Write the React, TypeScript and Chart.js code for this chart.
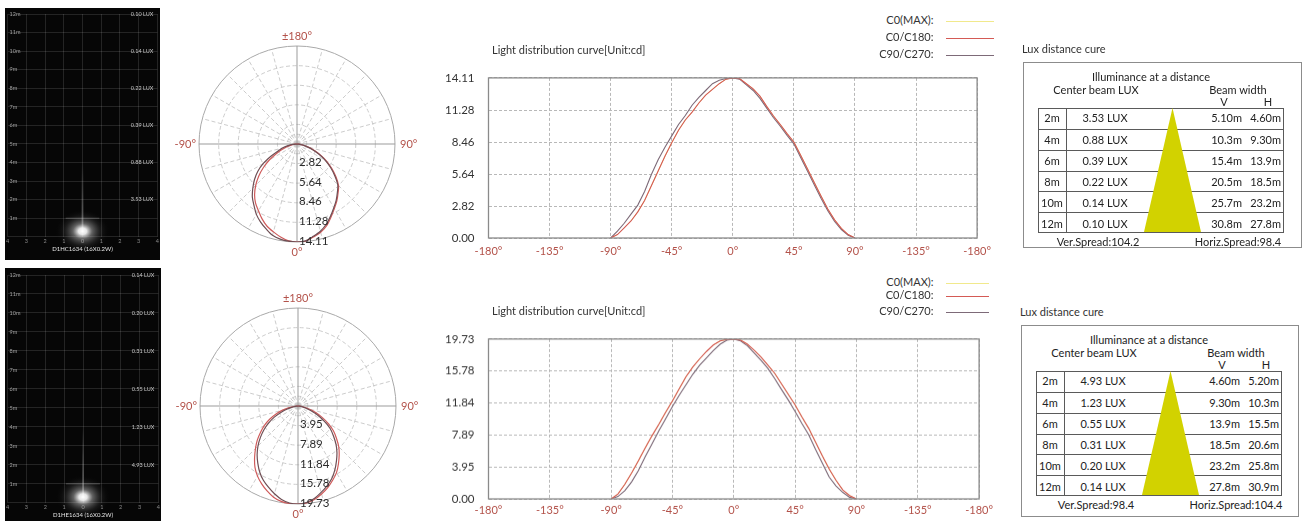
import React, { useEffect, useRef } from 'react';
import { Chart, registerables } from 'chart.js';

Chart.register(...registerables);

const FONT = 'Lato, "Open Sans", "DejaVu Sans", sans-serif';
const AXIS_RED = '#b3524a';
const RED = '#d45a55';
const GREY = '#7d6a78';
const YELLOW = '#f1e98c';

// ---------- data ----------
const angles = [-90, -85, -80, -75, -70, -65, -60, -55, -50, -45, -40, -35, -30, -25, -20, -15, -10, -5, 0, 5, 10, 15, 20, 25, 30, 35, 40, 45, 50, 55, 60, 65, 70, 75, 80, 85, 90];

const topC0 = [0, 0.3, 0.9, 1.5, 2.3, 3.3, 4.6, 5.9, 7.2, 8.4, 9.5, 10.4, 11.1, 11.9, 12.6, 13.1, 13.6, 14.0, 14.11, 14.05, 13.6, 13.15, 12.5, 11.6, 10.75, 10.0, 9.2, 8.46, 7.3, 6.1, 4.9, 3.7, 2.55, 1.6, 0.85, 0.3, 0];
const topC90 = [0, 0.6, 1.3, 2.1, 2.9, 4.1, 5.6, 6.9, 8.0, 9.0, 10.0, 10.8, 11.7, 12.4, 13.0, 13.6, 13.9, 14.05, 14.11, 14.0, 13.5, 13.0, 12.3, 11.45, 10.6, 9.85, 9.05, 8.3, 7.1, 5.9, 4.7, 3.5, 2.4, 1.45, 0.75, 0.25, 0];
const botC0 = [0, 0.6, 1.8, 3.2, 4.7, 6.3, 7.8, 9.2, 10.7, 12.1, 13.6, 15.1, 16.3, 17.3, 18.2, 19.0, 19.5, 19.7, 19.73, 19.6, 19.1, 18.35, 17.5, 16.5, 15.5, 14.2, 12.9, 11.6, 10.1, 8.7, 7.0, 5.3, 3.7, 2.3, 1.1, 0.4, 0];
const botC90 = [0, 0.3, 1.0, 2.1, 3.5, 5.2, 6.8, 8.4, 9.9, 11.4, 12.8, 14.1, 15.4, 16.5, 17.4, 18.3, 19.1, 19.6, 19.73, 19.5, 18.9, 18.0, 17.1, 16.1, 14.85, 13.5, 12.2, 10.8, 9.3, 7.9, 6.1, 4.4, 2.7, 1.6, 0.8, 0.2, 0];

const xTickValues = [-180, -135, -90, -45, 0, 45, 90, 135, 180];
const xTickLabels = ['-180°', '-135°', '-90°', '-45°', '0°', '45°', '90°', '-135°', '-180°'];
const topYTicks = [0, 2.82, 5.64, 8.46, 11.28, 14.11];
const botYTicks = [0, 3.95, 7.89, 11.84, 15.78, 19.73];

const polarAngleLabels = ['±180°', '90°', '0°', '-90°'];
const polarSpokeStep = 15;

const legendLabels = ['C0(MAX):', 'C0/C180:', 'C90/C270:'];
const legendColors = [YELLOW, RED, GREY];
const chartTitle = 'Light distribution curve[Unit:cd]';

const distances = ['2m', '4m', '6m', '8m', '10m', '12m'];
const panelMeters = [2, 4, 6, 8, 10, 12];
const topLux = [3.53, 0.88, 0.39, 0.22, 0.14, 0.10];
const topBeamV = ['5.10m', '10.3m', '15.4m', '20.5m', '25.7m', '30.8m'];
const topBeamH = ['4.60m', '9.30m', '13.9m', '18.5m', '23.2m', '27.8m'];
const topSpread = ['Ver.Spread:104.2', 'Horiz.Spread:98.4'];
const botLux = [4.93, 1.23, 0.55, 0.31, 0.20, 0.14];
const botBeamV = ['4.60m', '9.30m', '13.9m', '18.5m', '23.2m', '27.8m'];
const botBeamH = ['5.20m', '10.3m', '15.5m', '20.6m', '25.8m', '30.9m'];
const botSpread = ['Ver.Spread:98.4', 'Horiz.Spread:104.4'];
const topModel = 'D1HC1634 (16X0.2W)';
const botModel = 'D1HE1634 (16X0.2W)';

// ---------- helpers ----------
function Txt({ x, y, align = 'center', size = 11, color = '#222', children }: any) {
  const tx = align === 'center' ? '-50%' : align === 'right' ? '-100%' : '0';
  return (
    <div style={{ position: 'absolute', left: x, top: y - 7, height: 14, lineHeight: '14px', fontSize: size, color, whiteSpace: 'nowrap', transform: `translateX(${tx})`, fontFamily: FONT }}>
      {children}
    </div>
  );
}

// ---------- dark illuminance panel ----------
function DarkPanel({ left, top, width, height, padTop, padBottom, model, lux }: any) {
  const ref = useRef<HTMLCanvasElement>(null);
  useEffect(() => {
    const bg = {
      id: 'darkbg',
      beforeDraw(chart: any) {
        const c = chart.ctx;
        c.save();
        c.fillStyle = '#060606';
        c.fillRect(0, 0, chart.width, chart.height);
        c.restore();
      },
      afterDatasetsDraw(chart: any) {
        const c = chart.ctx;
        const xs = chart.scales.x;
        const ys = chart.scales.y;
        const cx = xs.getPixelForValue(0);
        const cy = ys.getPixelForValue(0.3);
        c.save();
        c.strokeStyle = 'rgba(255,255,255,0.25)';
        c.lineWidth = 1;
        c.beginPath();
        c.moveTo(xs.getPixelForValue(-0.9), ys.getPixelForValue(1));
        c.lineTo(xs.getPixelForValue(0.9), ys.getPixelForValue(1));
        c.stroke();
        const y4 = ys.getPixelForValue(4);
        const g2 = c.createLinearGradient(0, cy, 0, y4);
        g2.addColorStop(0, 'rgba(255,255,255,0.3)');
        g2.addColorStop(1, 'rgba(255,255,255,0)');
        c.fillStyle = g2;
        c.fillRect(cx - 1, y4, 2, cy - y4);
        c.translate(cx, cy);
        c.scale(1.25, 1);
        const g = c.createRadialGradient(0, 0, 0, 0, 0, 22);
        g.addColorStop(0, 'rgba(255,255,255,1)');
        g.addColorStop(0.15, 'rgba(255,255,255,0.9)');
        g.addColorStop(0.35, 'rgba(210,210,210,0.45)');
        g.addColorStop(0.65, 'rgba(140,140,140,0.15)');
        g.addColorStop(1, 'rgba(0,0,0,0)');
        c.fillStyle = g;
        c.beginPath();
        c.arc(0, 0, 22, 0, Math.PI * 2);
        c.fill();
        c.restore();
        c.save();
        c.fillStyle = '#c8c8c8';
        c.font = `5.5px ${FONT}`;
        c.textAlign = 'right';
        c.textBaseline = 'middle';
        lux.forEach((v: number, i: number) => c.fillText(v.toFixed(2) + ' LUX', chart.chartArea.right - 4, ys.getPixelForValue(panelMeters[i])));
        c.restore();
      },
    };
    const chart = new Chart(ref.current as HTMLCanvasElement, {
      type: 'scatter',
      data: { datasets: [] },
      options: {
        animation: false,
        responsive: false,
        events: [],
        layout: { padding: { top: padTop, bottom: padBottom, left: 2, right: 2 } },
        plugins: {
          legend: { display: false },
          tooltip: { enabled: false },
          title: { display: true, position: 'bottom', text: model, color: '#e6e6e6', font: { family: FONT, size: 6, weight: 'normal' }, padding: { top: 1, bottom: 1 } },
        },
        scales: {
          x: {
            type: 'linear', min: -4, max: 4,
            ticks: { stepSize: 1, color: '#8a8a8a', font: { family: FONT, size: 5.5 }, padding: 1, callback: (v: any) => String(Math.abs(v)) },
            grid: { color: 'rgba(255,255,255,0.12)', drawTicks: false },
            border: { display: false },
            afterFit: (s: any) => { s.height = 8; },
          },
          y: {
            type: 'linear', min: 0, max: 12,
            ticks: { stepSize: 1, mirror: true, padding: 2, color: '#a0a0a0', font: { family: FONT, size: 5.5 }, callback: (v: any) => (v === 0 ? '' : v + 'm') },
            grid: { color: 'rgba(255,255,255,0.12)', drawTicks: false },
            border: { display: false },
            afterFit: (s: any) => { s.width = 0; },
          },
        },
      } as any,
      plugins: [bg],
    });
    return () => chart.destroy();
  }, []);
  return <canvas ref={ref} width={width} height={height} style={{ position: 'absolute', left, top, width, height }} />;
}

// ---------- polar chart ----------
function PolarChart({ cx, cy, c0, c90, ticks }: any) {
  const W = 270, H = 240, R = 98;
  const ref = useRef<HTMLCanvasElement>(null);
  useEffect(() => {
    const maxR = ticks[ticks.length - 1];
    const toXY = (arr: number[]) => angles.map((a, i) => ({ x: arr[i] * Math.sin((a * Math.PI) / 180), y: -arr[i] * Math.cos((a * Math.PI) / 180) }));
    const grid = {
      id: 'polarGrid',
      beforeDatasetsDraw(chart: any) {
        const c = chart.ctx, xs = chart.scales.x, ys = chart.scales.y;
        const ox = xs.getPixelForValue(0), oy = ys.getPixelForValue(0);
        const pr = (v: number) => xs.getPixelForValue(v) - ox;
        const outer = pr(maxR);
        c.save();
        c.lineWidth = 0.9;
        c.strokeStyle = '#c6c6c6';
        c.setLineDash([4, 2.5]);
        for (let a = 0; a < 360; a += polarSpokeStep) {
          if (a % 90 === 0) continue;
          const t = (a * Math.PI) / 180;
          c.beginPath();
          c.moveTo(ox, oy);
          c.lineTo(ox + outer * Math.cos(t), oy + outer * Math.sin(t));
          c.stroke();
        }
        [ticks[1] / 2, ...ticks.slice(1, -1)].forEach((t: number) => {
          c.beginPath();
          c.arc(ox, oy, pr(t), 0, Math.PI * 2);
          c.stroke();
        });
        c.setLineDash([]);
        c.strokeStyle = '#a9a9a9';
        c.lineWidth = 1;
        c.beginPath();
        c.arc(ox, oy, outer, 0, Math.PI * 2);
        c.stroke();
        c.strokeStyle = '#9b9b9b';
        c.beginPath();
        c.moveTo(ox - outer, oy);
        c.lineTo(ox + outer, oy);
        c.moveTo(ox, oy - outer);
        c.lineTo(ox, oy + outer);
        c.stroke();
        c.fillStyle = AXIS_RED;
        c.font = `11px ${FONT}`;
        c.textBaseline = 'middle';
        c.textAlign = 'center';
        c.fillText(polarAngleLabels[0], ox, oy - outer - 10);
        c.fillText(polarAngleLabels[2], ox, oy + outer + 10);
        c.textAlign = 'left';
        c.fillText(polarAngleLabels[1], ox + outer + 5, oy);
        c.textAlign = 'right';
        c.fillText(polarAngleLabels[3], ox - outer - 3, oy);
        c.restore();
      },
      afterDatasetsDraw(chart: any) {
        const c = chart.ctx, xs = chart.scales.x, ys = chart.scales.y;
        const ox = xs.getPixelForValue(0);
        c.save();
        c.fillStyle = '#2a2a2a';
        c.font = `11.5px ${FONT}`;
        c.textAlign = 'left';
        c.textBaseline = 'middle';
        ticks.slice(1).forEach((t: number) => c.fillText(t.toFixed(2), ox + 2, ys.getPixelForValue(-t) - 1));
        c.restore();
      },
    };
    const chart = new Chart(ref.current as HTMLCanvasElement, {
      type: 'scatter',
      data: {
        datasets: [
          { data: toXY(c90), borderColor: '#6f4f55', borderWidth: 1.2, showLine: true, pointRadius: 0, tension: 0.3 },
          { data: toXY(c0), borderColor: '#cf5b5b', borderWidth: 1.2, showLine: true, pointRadius: 0, tension: 0.3 },
        ],
      },
      options: {
        animation: false,
        responsive: false,
        events: [],
        layout: { padding: { left: W / 2 - R, right: W / 2 - R, top: H / 2 - R, bottom: H / 2 - R } },
        plugins: { legend: { display: false }, tooltip: { enabled: false } },
        scales: {
          x: { type: 'linear', min: -maxR, max: maxR, display: false },
          y: { type: 'linear', min: -maxR, max: maxR, display: false },
        },
      } as any,
      plugins: [grid],
    });
    return () => chart.destroy();
  }, []);
  return <canvas ref={ref} width={W} height={H} style={{ position: 'absolute', left: cx - W / 2, top: cy - H / 2, width: W, height: H }} />;
}

// ---------- line chart ----------
function LineChart({ areaTop, areaBottom, xPad, c0, c90, ticks }: any) {
  const ref = useRef<HTMLCanvasElement>(null);
  const left = 430, width = 568, padTop = 10, xAxisH = 22, yAxisW = 58.5, padRight = 3.4;
  const top = areaTop - padTop;
  const height = areaBottom + xAxisH - top;
  useEffect(() => {
    const maxY = ticks[ticks.length - 1];
    const mk = (arr: number[]) => angles.map((a, i) => ({ x: a, y: arr[i] }));
    const frame = {
      id: 'frame',
      afterDatasetsDraw(chart: any) {
        const { ctx, chartArea } = chart;
        ctx.save();
        ctx.strokeStyle = '#8a8a8a';
        ctx.lineWidth = 1.3;
        ctx.strokeRect(chartArea.left, chartArea.top, chartArea.right - chartArea.left, chartArea.bottom - chartArea.top);
        ctx.restore();
      },
    };
    const chart = new Chart(ref.current as HTMLCanvasElement, {
      type: 'line',
      data: {
        datasets: [
          { label: legendLabels[0], data: mk(c0), borderColor: YELLOW, borderWidth: 1, pointRadius: 0, order: 3 },
          { label: legendLabels[2], data: mk(c90), borderColor: GREY, borderWidth: 1.1, pointRadius: 0, order: 2 },
          { label: legendLabels[1], data: mk(c0), borderColor: RED, borderWidth: 1.1, pointRadius: 0, order: 1 },
        ],
      },
      options: {
        animation: false,
        responsive: false,
        events: [],
        layout: { padding: { top: padTop, right: padRight, left: 0, bottom: 0 } },
        plugins: { legend: { display: false }, tooltip: { enabled: false }, title: { display: false } },
        scales: {
          x: {
            type: 'linear', min: -180, max: 180,
            afterBuildTicks: (s: any) => { s.ticks = xTickValues.map((v) => ({ value: v })); },
            ticks: { autoSkip: false, maxRotation: 0, padding: xPad, color: AXIS_RED, font: { family: FONT, size: 11 }, callback: (_v: any, i: number) => xTickLabels[i] },
            grid: { color: '#b8b8b8', drawTicks: false },
            border: { display: false, dash: [3, 2] },
            afterFit: (s: any) => { s.height = xAxisH; },
          },
          y: {
            type: 'linear', min: 0, max: maxY,
            afterBuildTicks: (s: any) => { s.ticks = ticks.map((v: number) => ({ value: v })); },
            ticks: { autoSkip: false, padding: 14, color: '#333', font: { family: FONT, size: 11.5 }, callback: (v: any) => Number(v).toFixed(2) },
            grid: { color: '#b8b8b8', drawTicks: false },
            border: { display: false, dash: [3, 2] },
            afterFit: (s: any) => { s.width = yAxisW; },
          },
        },
      } as any,
      plugins: [frame],
    });
    return () => chart.destroy();
  }, []);
  return <canvas ref={ref} width={width} height={height} style={{ position: 'absolute', left, top, width, height }} />;
}

function ChartHeader({ titleY, legendY, lineW }: any) {
  return (
    <>
      <Txt x={492} y={titleY} align="left" color="#333">{chartTitle}</Txt>
      {legendLabels.map((l, i) => (
        <React.Fragment key={l}>
          <Txt x={933.5} y={legendY[i]} align="right" color="#333">{l}</Txt>
          <div style={{ position: 'absolute', left: 946, top: legendY[i] + 1, width: lineW, height: 1, background: legendColors[i] }} />
        </React.Fragment>
      ))}
    </>
  );
}

// ---------- lux table ----------
function LuxTable({ boxLeft, boxTop, boxW, boxH, titleY, lux, beamV, beamH, spreads }: any) {
  const innerL = 14, innerT = 45, innerW = 246, innerH = 125;
  const rowH = innerH / distances.length;
  const line = '#5a5a5a';
  return (
    <>
      <Txt x={boxLeft - 1} y={titleY} align="left" color="#333">Lux distance cure</Txt>
      <div style={{ position: 'absolute', left: boxLeft, top: boxTop, width: boxW, height: boxH, border: '1px solid #8c8c8c', boxSizing: 'border-box' }}>
        <Txt x={127} y={14}>Illuminance at a distance</Txt>
        <Txt x={72} y={27}>Center beam LUX</Txt>
        <Txt x={214} y={27}>Beam width</Txt>
        <Txt x={200} y={38.5}>V</Txt>
        <Txt x={244} y={38.5}>H</Txt>
        <div style={{ position: 'absolute', left: innerL, top: innerT, width: innerW, height: innerH, border: `1px solid ${line}`, boxSizing: 'border-box' }}>
          {distances.map((d, i) => (
            <div key={d} style={{ position: 'absolute', left: 0, top: i * rowH - 1, width: innerW - 2, height: rowH, borderTop: i ? `1px solid ${line}` : 'none', boxSizing: 'border-box' }}>
              <Txt x={13} y={rowH / 2}>{d}</Txt>
              <Txt x={66} y={rowH / 2}>{lux[i].toFixed(2) + ' LUX'}</Txt>
              <Txt x={203} y={rowH / 2} align="right">{beamV[i]}</Txt>
              <Txt x={242} y={rowH / 2} align="right">{beamH[i]}</Txt>
            </div>
          ))}
          <div style={{ position: 'absolute', left: 27, top: 0, width: 1, height: innerH - 2, background: line }} />
          <div style={{ position: 'absolute', left: 105, top: -1, width: 57, height: innerH - 1, background: '#d2d200', clipPath: 'polygon(50% 0, 100% 100%, 0 100%)' }} />
        </div>
        <Txt x={74} y={178.5}>{spreads[0]}</Txt>
        <Txt x={214} y={178.5}>{spreads[1]}</Txt>
      </div>
    </>
  );
}

export default function App() {
  return (
    <div style={{ position: 'fixed', left: 0, top: 0, width: 1308, height: 528, background: '#fff', overflow: 'hidden', fontFamily: FONT }}>
      <DarkPanel left={5} top={8} width={155} height={252} padTop={6} padBottom={6} model={topModel} lux={topLux} />
      <DarkPanel left={5} top={268} width={156} height={253} padTop={7} padBottom={1} model={botModel} lux={botLux} />
      <PolarChart cx={296.7} cy={143.5} c0={topC0} c90={topC90} ticks={topYTicks} />
      <PolarChart cx={297.7} cy={406} c0={botC0} c90={botC90} ticks={botYTicks} />
      <LineChart areaTop={66.7} areaBottom={238} xPad={7} c0={topC0} c90={topC90} ticks={topYTicks} />
      <LineChart areaTop={328.3} areaBottom={499.3} xPad={5} c0={botC0} c90={botC90} ticks={botYTicks} />
      <ChartHeader titleY={50} legendY={[20, 37, 54]} lineW={48} />
      <ChartHeader titleY={311} legendY={[282, 295, 311]} lineW={43} />
      <LuxTable boxLeft={1023} boxTop={62} boxW={279} boxH={186} titleY={49} lux={topLux} beamV={topBeamV} beamH={topBeamH} spreads={topSpread} />
      <LuxTable boxLeft={1021} boxTop={325} boxW={278} boxH={192} titleY={312} lux={botLux} beamV={botBeamV} beamH={botBeamH} spreads={botSpread} />
    </div>
  );
}
